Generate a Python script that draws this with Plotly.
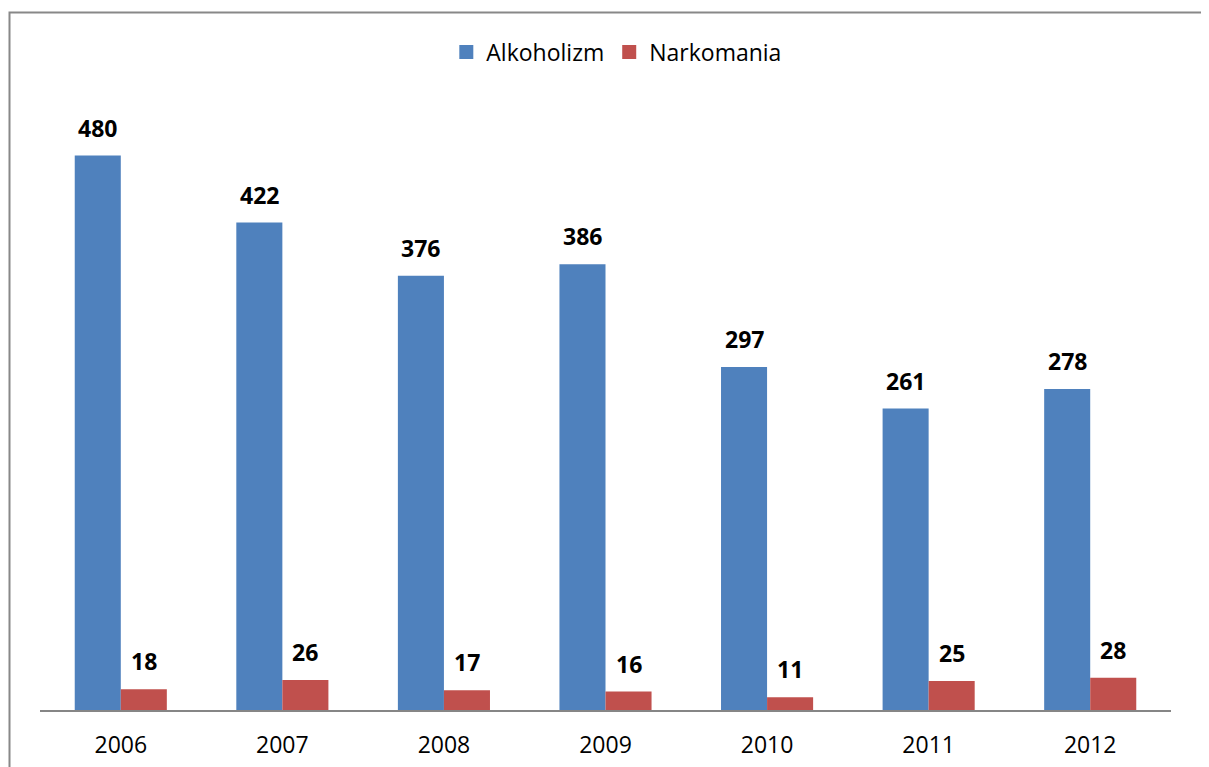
import plotly.graph_objects as go

years = ["2006", "2007", "2008", "2009", "2010", "2011", "2012"]
alkoholizm = [480, 422, 376, 386, 297, 261, 278]
narkomania = [18, 26, 17, 16, 11, 25, 28]
series_names = ["Alkoholizm", "Narkomania"]
colors = ["#4F81BD", "#C0504D"]

OFF = 8  # page body margin
W, H = 1209 - OFF, 767 - OFF
ml, mr, mt, mb = 40 - OFF, 38, 80 - OFF, 57
pw = W - ml - mr
ph = H - mt - mb
axis_y = H - mb  # figure px

fig = go.Figure()
for name, vals, col in zip(series_names, [alkoholizm, narkomania], colors):
    fig.add_trace(go.Bar(x=years, y=vals, name=name, showlegend=False,
                         marker=dict(color=col, line=dict(width=0))))
for name, col in zip(series_names, colors):
    fig.add_trace(go.Scatter(x=[None], y=[None], mode="markers", name=name,
                             marker=dict(symbol="square", size=14, color=col)))

annotations = []
for vals, shift in [(alkoholizm, -23), (narkomania, 23)]:
    for i, v in enumerate(vals):
        annotations.append(dict(
            x=i, y=v, xref="x", yref="y", text=str(v), showarrow=False,
            xshift=shift, yshift=28, yanchor="middle", xanchor="center",
            font=dict(family="Open Sans", size=23, color="black", weight="bold"),
        ))

fig.update_layout(
    width=W, height=H,
    margin=dict(l=ml, r=mr, t=mt, b=mb, autoexpand=False),
    paper_bgcolor="white", plot_bgcolor="white",
    barmode="group", bargap=0.43, bargroupgap=0,
    font=dict(family="Open Sans", size=23, color="black"),
    legend=dict(orientation="h", x=0.510, xanchor="center", y=1 + (mt - (52 - OFF)) / ph, yanchor="middle",
                font=dict(size=23), traceorder="normal", bgcolor="rgba(0,0,0,0)"),
    xaxis=dict(type="category", range=[-0.5, len(years) - 0.5], showline=True, linecolor="#868686",
               linewidth=2, ticks="", showgrid=False, tickfont=dict(size=23), ticklabelstandoff=13,
               automargin=False),
    yaxis=dict(range=[0, ph / 1.155], visible=False, showgrid=False, automargin=False),
    annotations=annotations,
    shapes=[dict(type="rect", xref="paper", yref="paper",
                 x0=(9.5 - OFF - ml) / pw, x1=(W + 10 - ml) / pw,
                 y0=-(H + 10 - axis_y) / ph, y1=(axis_y - (12.5 - OFF)) / ph,
                 line=dict(color="#888888", width=2), fillcolor="rgba(0,0,0,0)", layer="below")],
)

fig.write_html("out.html")
